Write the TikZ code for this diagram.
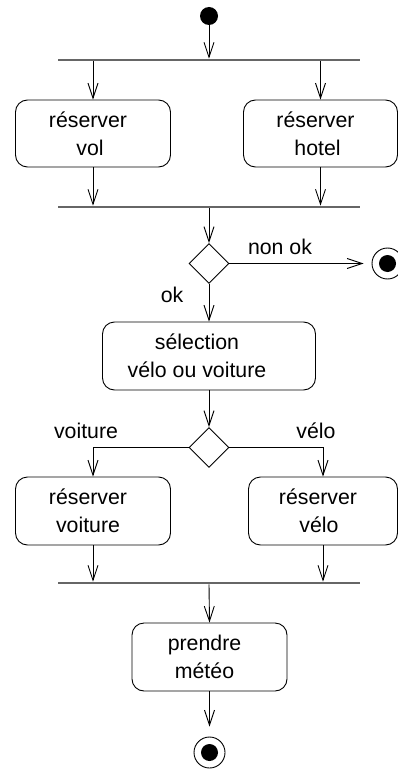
\documentclass[tikz,border=0pt]{standalone}
\usepackage{fontspec}
\setmainfont{Liberation Sans}
\usetikzlibrary{arrows.meta,shapes.geometric}
\tikzset{
  act/.style={draw, rounded corners=12pt, line width=0.9pt, align=center, inner sep=0pt,
    font=\fontsize{21.3}{28}\selectfont},
  bar/.style={fill=black!60, inner sep=0pt, minimum height=2.2pt, minimum width=302pt},
  lbl/.style={font=\fontsize{21.3}{26}\selectfont, anchor=base, inner sep=0pt},
  arr/.style={-{Straight Barb[length=15pt,width=10pt,line width=0.9pt]}, line width=0.9pt},
  ln/.style={line width=0.9pt},
  dec/.style={diamond, draw, line width=0.9pt, minimum width=40pt, minimum height=40pt, inner sep=0pt},
  startnode/.style={circle, fill, inner sep=0pt, minimum size=18pt},
  endouter/.style={circle, draw, line width=0.9pt, inner sep=0pt, minimum size=31pt},
  endinner/.style={circle, fill, inner sep=0pt, minimum size=17pt},
}
\begin{document}
\begin{tikzpicture}[x=1pt,y=-1pt]
\useasboundingbox (0,0) rectangle (398,770);
% nodes
\node[startnode] (start) at (209,16) {};
\node[bar] (b1) at (209,60) {};
\node[act, minimum width=155pt, minimum height=67pt] (vol) at (93,133.5) {réserver\hspace*{10pt}\\vol\hspace*{6pt}};
\node[act, minimum width=154pt, minimum height=67pt] (hotel) at (320.5,133.5) {réserver\hspace*{10pt}\\hotel\hspace*{6pt}};
\node[bar] (b2) at (209,207) {};
\node[dec] (d1) at (209,263.5) {};
\node[endouter] (end1) at (387.5,263.5) {};
\node[endinner] (end1in) at (end1) {};
\node[act, minimum width=213pt, minimum height=68pt] (sel) at (209,356) {sélection\hspace*{24pt}\\vélo ou voiture\hspace*{24pt}};
\node[dec] (d2) at (209,447.5) {};
\node[act, minimum width=155pt, minimum height=68pt] (voit) at (93,511) {réserver\hspace*{10pt}\\voiture\hspace*{10pt}};
\node[act, minimum width=149pt, minimum height=68pt] (velo) at (323,511) {réserver\hspace*{10pt}\\vélo\hspace*{8pt}};
\node[bar] (b3) at (209,583) {};
\node[act, minimum width=155pt, minimum height=68pt] (meteo) at (209.5,657) {prendre\hspace*{10pt}\\météo\hspace*{10pt}};
\node[endouter] (end2) at (209.5,752.5) {};
\node[endinner] (end2in) at (end2) {};
% labels
\node[lbl] (lnonok) at (280,254) {non ok};
\node[lbl] (lok) at (172,302) {ok};
\node[lbl] (lvoit) at (86,438) {voiture};
\node[lbl] (lvelo) at (316,438) {vélo};
% connectors
\draw[arr] (start) -- (b1.north);
\draw[arr] (b1.south -| vol.north) -- (vol.north);
\draw[arr] (b1.south -| hotel.north) -- (hotel.north);
\draw[arr] (vol.south) -- (vol.south |- b2.north);
\draw[arr] (hotel.south) -- (hotel.south |- b2.north);
\draw[arr] (b2.south) -- (d1.north);
\draw[arr, shorten >=8pt] (d1.east) -- (end1.west);
\draw[arr] (d1.south) -- (sel.north);
\draw[arr] (sel.south) -- (d2.north);
\draw[arr] (d2.west) -| (voit.north);
\draw[arr] (d2.east) -| (velo.north);
\draw[arr] (voit.south) -- (voit.south |- b3.north);
\draw[arr] (velo.south) -- (velo.south |- b3.north);
\draw[arr] (b3.south) -- (meteo.north);
\draw[arr, shorten >=10pt] (meteo.south) -- (end2.north);
\end{tikzpicture}
\end{document}
